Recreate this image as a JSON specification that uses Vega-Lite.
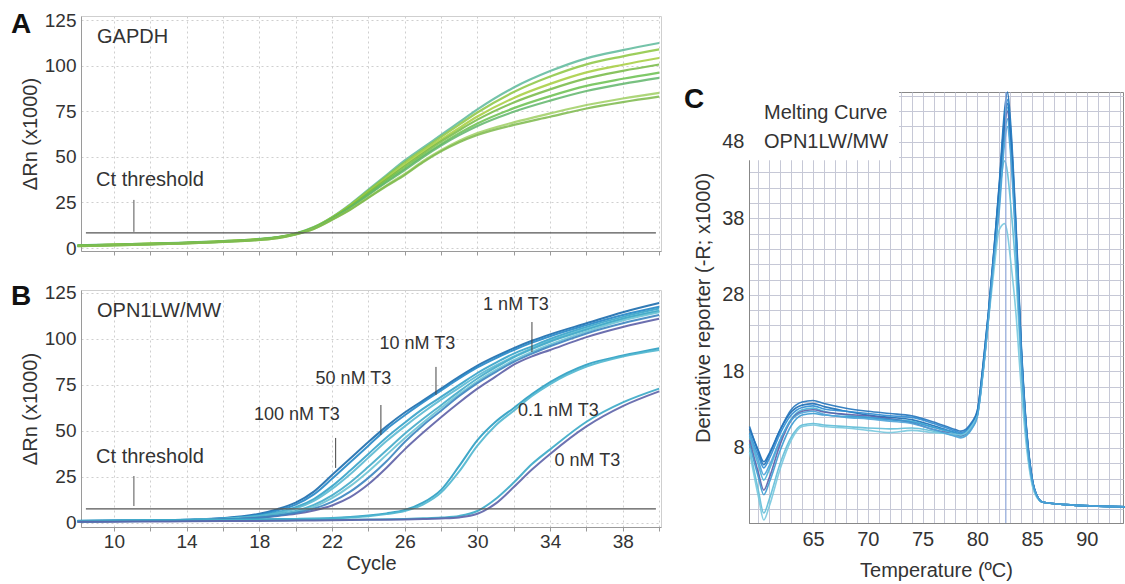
{
"$schema": "https://vega.github.io/schema/vega-lite/v6.json",
"padding": {"left": 10, "top": 10, "right": 0, "bottom": 0},
"background": "white",
"config": {"font": "Liberation Sans", "view": {"stroke": null}, "axis": {"labelFont": "Liberation Sans", "titleFont": "Liberation Sans", "labelColor": "#333", "titleColor": "#333", "titleFontWeight": "normal", "labelOverlap": false, "tickCount": 100, "format": "d"}},
"spacing": 18,
"resolve": {"scale": {"color": "independent"}},
"datasets": {
"A": [
{"s":"a1","c":8,"v":1.5},{"s":"a1","c":10,"v":2},{"s":"a1","c":12,"v":2.5},{"s":"a1","c":14,"v":3},{"s":"a1","c":16,"v":3.8},{"s":"a1","c":18,"v":5},{"s":"a1","c":19,"v":6},{"s":"a1","c":20,"v":8},{"s":"a1","c":21,"v":11.5},{"s":"a1","c":22,"v":17},{"s":"a1","c":23,"v":24},{"s":"a1","c":24,"v":32},{"s":"a1","c":25,"v":40},{"s":"a1","c":26,"v":48},{"s":"a1","c":27,"v":55},{"s":"a1","c":28,"v":62},{"s":"a1","c":29,"v":69},{"s":"a1","c":30,"v":76},{"s":"a1","c":32,"v":88},{"s":"a1","c":34,"v":97},{"s":"a1","c":36,"v":104},{"s":"a1","c":38,"v":108.5},{"s":"a1","c":40,"v":112.4},
{"s":"a2","c":8,"v":1.4},{"s":"a2","c":10,"v":1.9},{"s":"a2","c":12,"v":2.4},{"s":"a2","c":14,"v":2.9},{"s":"a2","c":16,"v":3.8},{"s":"a2","c":18,"v":4.9},{"s":"a2","c":19,"v":5.9},{"s":"a2","c":20,"v":7.9},{"s":"a2","c":21,"v":11.4},{"s":"a2","c":22,"v":16.8},{"s":"a2","c":23,"v":23.6},{"s":"a2","c":24,"v":31.5},{"s":"a2","c":25,"v":39.3},{"s":"a2","c":26,"v":47},{"s":"a2","c":27,"v":54},{"s":"a2","c":28,"v":60.9},{"s":"a2","c":29,"v":67.7},{"s":"a2","c":30,"v":74.3},{"s":"a2","c":32,"v":85.5},{"s":"a2","c":34,"v":94},{"s":"a2","c":36,"v":100.7},{"s":"a2","c":38,"v":105.1},{"s":"a2","c":40,"v":108.9},
{"s":"a3","c":8,"v":1.4},{"s":"a3","c":10,"v":1.9},{"s":"a3","c":12,"v":2.4},{"s":"a3","c":14,"v":2.9},{"s":"a3","c":16,"v":3.7},{"s":"a3","c":18,"v":4.9},{"s":"a3","c":19,"v":5.9},{"s":"a3","c":20,"v":7.9},{"s":"a3","c":21,"v":11.2},{"s":"a3","c":22,"v":16.6},{"s":"a3","c":23,"v":23.2},{"s":"a3","c":24,"v":30.7},{"s":"a3","c":25,"v":38.3},{"s":"a3","c":26,"v":45.8},{"s":"a3","c":27,"v":52.8},{"s":"a3","c":28,"v":59.5},{"s":"a3","c":29,"v":65.9},{"s":"a3","c":30,"v":72.1},{"s":"a3","c":32,"v":82.3},{"s":"a3","c":34,"v":90},{"s":"a3","c":36,"v":96.3},{"s":"a3","c":38,"v":100.5},{"s":"a3","c":40,"v":104.2},
{"s":"a4","c":8,"v":1.3},{"s":"a4","c":10,"v":1.8},{"s":"a4","c":12,"v":2.3},{"s":"a4","c":14,"v":2.8},{"s":"a4","c":16,"v":3.6},{"s":"a4","c":18,"v":4.8},{"s":"a4","c":19,"v":5.8},{"s":"a4","c":20,"v":7.8},{"s":"a4","c":21,"v":11.1},{"s":"a4","c":22,"v":16.4},{"s":"a4","c":23,"v":22.8},{"s":"a4","c":24,"v":30.2},{"s":"a4","c":25,"v":37.6},{"s":"a4","c":26,"v":44.8},{"s":"a4","c":27,"v":51.8},{"s":"a4","c":28,"v":58.4},{"s":"a4","c":29,"v":64.6},{"s":"a4","c":30,"v":70.4},{"s":"a4","c":32,"v":79.8},{"s":"a4","c":34,"v":87},{"s":"a4","c":36,"v":93},{"s":"a4","c":38,"v":97.1},{"s":"a4","c":40,"v":100.6},
{"s":"a5","c":8,"v":1.2},{"s":"a5","c":10,"v":1.7},{"s":"a5","c":12,"v":2.2},{"s":"a5","c":14,"v":2.8},{"s":"a5","c":16,"v":3.6},{"s":"a5","c":18,"v":4.7},{"s":"a5","c":19,"v":5.7},{"s":"a5","c":20,"v":7.7},{"s":"a5","c":21,"v":11},{"s":"a5","c":22,"v":16.2},{"s":"a5","c":23,"v":22.4},{"s":"a5","c":24,"v":29.5},{"s":"a5","c":25,"v":36.7},{"s":"a5","c":26,"v":43.6},{"s":"a5","c":27,"v":50.6},{"s":"a5","c":28,"v":57},{"s":"a5","c":29,"v":63},{"s":"a5","c":30,"v":68.3},{"s":"a5","c":32,"v":76.7},{"s":"a5","c":34,"v":83.3},{"s":"a5","c":36,"v":88.9},{"s":"a5","c":38,"v":92.8},{"s":"a5","c":40,"v":96.2},
{"s":"a6","c":8,"v":1.2},{"s":"a6","c":10,"v":1.7},{"s":"a6","c":12,"v":2.2},{"s":"a6","c":14,"v":2.7},{"s":"a6","c":16,"v":3.5},{"s":"a6","c":18,"v":4.7},{"s":"a6","c":19,"v":5.7},{"s":"a6","c":20,"v":7.7},{"s":"a6","c":21,"v":10.9},{"s":"a6","c":22,"v":16},{"s":"a6","c":23,"v":22},{"s":"a6","c":24,"v":29.1},{"s":"a6","c":25,"v":36.1},{"s":"a6","c":26,"v":42.8},{"s":"a6","c":27,"v":49.8},{"s":"a6","c":28,"v":56.2},{"s":"a6","c":29,"v":61.9},{"s":"a6","c":30,"v":66.9},{"s":"a6","c":32,"v":74.7},{"s":"a6","c":34,"v":80.8},{"s":"a6","c":36,"v":86.1},{"s":"a6","c":38,"v":90},{"s":"a6","c":40,"v":93.3},
{"s":"a7","c":8,"v":1},{"s":"a7","c":10,"v":1.5},{"s":"a7","c":12,"v":2},{"s":"a7","c":14,"v":2.6},{"s":"a7","c":16,"v":3.4},{"s":"a7","c":18,"v":4.5},{"s":"a7","c":19,"v":5.5},{"s":"a7","c":20,"v":7.5},{"s":"a7","c":21,"v":10.6},{"s":"a7","c":22,"v":15.6},{"s":"a7","c":23,"v":21.2},{"s":"a7","c":24,"v":27.8},{"s":"a7","c":25,"v":34.4},{"s":"a7","c":26,"v":40.6},{"s":"a7","c":27,"v":47.6},{"s":"a7","c":28,"v":53.6},{"s":"a7","c":29,"v":58.8},{"s":"a7","c":30,"v":63},{"s":"a7","c":32,"v":68.9},{"s":"a7","c":34,"v":73.8},{"s":"a7","c":36,"v":78.4},{"s":"a7","c":38,"v":82},{"s":"a7","c":40,"v":85.1},
{"s":"a8","c":8,"v":1},{"s":"a8","c":10,"v":1.5},{"s":"a8","c":12,"v":2},{"s":"a8","c":14,"v":2.6},{"s":"a8","c":16,"v":3.4},{"s":"a8","c":18,"v":4.5},{"s":"a8","c":19,"v":5.5},{"s":"a8","c":20,"v":7.5},{"s":"a8","c":21,"v":10.5},{"s":"a8","c":22,"v":15.5},{"s":"a8","c":23,"v":21},{"s":"a8","c":24,"v":27.5},{"s":"a8","c":25,"v":34},{"s":"a8","c":26,"v":40},{"s":"a8","c":27,"v":47},{"s":"a8","c":28,"v":53},{"s":"a8","c":29,"v":58},{"s":"a8","c":30,"v":62},{"s":"a8","c":32,"v":67.5},{"s":"a8","c":34,"v":72},{"s":"a8","c":36,"v":76.5},{"s":"a8","c":38,"v":80},{"s":"a8","c":40,"v":83}
],
"B": [
{"s":"b1","c":8,"v":1.0},{"s":"b1","c":10,"v":1.2},{"s":"b1","c":12,"v":1.4},{"s":"b1","c":14,"v":1.8},{"s":"b1","c":16,"v":2.6},{"s":"b1","c":18,"v":5},{"s":"b1","c":19,"v":7.5},{"s":"b1","c":20,"v":11},{"s":"b1","c":21,"v":17},{"s":"b1","c":22,"v":26},{"s":"b1","c":23,"v":35},{"s":"b1","c":24,"v":44},{"s":"b1","c":25,"v":52.5},{"s":"b1","c":26,"v":60},{"s":"b1","c":27,"v":66.5},{"s":"b1","c":28,"v":73},{"s":"b1","c":29,"v":79.5},{"s":"b1","c":30,"v":85.5},{"s":"b1","c":31,"v":90.5},{"s":"b1","c":32,"v":95},{"s":"b1","c":33,"v":99},{"s":"b1","c":34,"v":102.5},{"s":"b1","c":36,"v":108.5},{"s":"b1","c":38,"v":114.5},{"s":"b1","c":40,"v":119.5},
{"s":"b2","c":8,"v":1.1},{"s":"b2","c":10,"v":1.3},{"s":"b2","c":12,"v":1.5},{"s":"b2","c":14,"v":1.8},{"s":"b2","c":16,"v":2.5},{"s":"b2","c":18,"v":4.5},{"s":"b2","c":19,"v":6.8},{"s":"b2","c":20,"v":10},{"s":"b2","c":21,"v":15.5},{"s":"b2","c":22,"v":24},{"s":"b2","c":23,"v":33},{"s":"b2","c":24,"v":42},{"s":"b2","c":25,"v":51},{"s":"b2","c":26,"v":58.5},{"s":"b2","c":27,"v":65.5},{"s":"b2","c":28,"v":72},{"s":"b2","c":29,"v":78.5},{"s":"b2","c":30,"v":84.5},{"s":"b2","c":31,"v":89.5},{"s":"b2","c":32,"v":94},{"s":"b2","c":33,"v":98},{"s":"b2","c":34,"v":101.5},{"s":"b2","c":36,"v":107.5},{"s":"b2","c":38,"v":113},{"s":"b2","c":40,"v":117.5},
{"s":"b3","c":8,"v":0.9},{"s":"b3","c":10,"v":1.1},{"s":"b3","c":12,"v":1.3},{"s":"b3","c":14,"v":1.6},{"s":"b3","c":16,"v":2.3},{"s":"b3","c":18,"v":4},{"s":"b3","c":19,"v":5.8},{"s":"b3","c":20,"v":8.5},{"s":"b3","c":21,"v":13},{"s":"b3","c":22,"v":20},{"s":"b3","c":23,"v":28.5},{"s":"b3","c":24,"v":37.5},{"s":"b3","c":25,"v":46.5},{"s":"b3","c":26,"v":54.5},{"s":"b3","c":27,"v":62},{"s":"b3","c":28,"v":68.5},{"s":"b3","c":29,"v":75},{"s":"b3","c":30,"v":81.5},{"s":"b3","c":31,"v":87},{"s":"b3","c":32,"v":92},{"s":"b3","c":33,"v":96},{"s":"b3","c":34,"v":100},{"s":"b3","c":36,"v":106.5},{"s":"b3","c":38,"v":112},{"s":"b3","c":40,"v":116.5},
{"s":"b4","c":8,"v":1.0},{"s":"b4","c":10,"v":1.2},{"s":"b4","c":12,"v":1.4},{"s":"b4","c":14,"v":1.7},{"s":"b4","c":16,"v":2.3},{"s":"b4","c":18,"v":3.8},{"s":"b4","c":19,"v":5.3},{"s":"b4","c":20,"v":7.8},{"s":"b4","c":21,"v":12},{"s":"b4","c":22,"v":18.5},{"s":"b4","c":23,"v":26.5},{"s":"b4","c":24,"v":35.5},{"s":"b4","c":25,"v":44.5},{"s":"b4","c":26,"v":52.5},{"s":"b4","c":27,"v":60},{"s":"b4","c":28,"v":67},{"s":"b4","c":29,"v":73.5},{"s":"b4","c":30,"v":80},{"s":"b4","c":31,"v":85.5},{"s":"b4","c":32,"v":90.5},{"s":"b4","c":33,"v":95},{"s":"b4","c":34,"v":99},{"s":"b4","c":36,"v":105.5},{"s":"b4","c":38,"v":111},{"s":"b4","c":40,"v":115.5},
{"s":"b5","c":8,"v":0.8},{"s":"b5","c":10,"v":1.0},{"s":"b5","c":12,"v":1.2},{"s":"b5","c":14,"v":1.5},{"s":"b5","c":16,"v":2.1},{"s":"b5","c":18,"v":3.3},{"s":"b5","c":19,"v":4.6},{"s":"b5","c":20,"v":6.5},{"s":"b5","c":21,"v":9.8},{"s":"b5","c":22,"v":15},{"s":"b5","c":23,"v":22},{"s":"b5","c":24,"v":30.5},{"s":"b5","c":25,"v":39.5},{"s":"b5","c":26,"v":48.5},{"s":"b5","c":27,"v":56.5},{"s":"b5","c":28,"v":64},{"s":"b5","c":29,"v":71.5},{"s":"b5","c":30,"v":78.5},{"s":"b5","c":31,"v":84.5},{"s":"b5","c":32,"v":90},{"s":"b5","c":33,"v":94.5},{"s":"b5","c":34,"v":98.5},{"s":"b5","c":36,"v":105},{"s":"b5","c":38,"v":111},{"s":"b5","c":40,"v":115},
{"s":"b6","c":8,"v":0.9},{"s":"b6","c":10,"v":1.1},{"s":"b6","c":12,"v":1.3},{"s":"b6","c":14,"v":1.6},{"s":"b6","c":16,"v":2.1},{"s":"b6","c":18,"v":3.0},{"s":"b6","c":19,"v":4.2},{"s":"b6","c":20,"v":6},{"s":"b6","c":21,"v":8.8},{"s":"b6","c":22,"v":13.5},{"s":"b6","c":23,"v":20},{"s":"b6","c":24,"v":28},{"s":"b6","c":25,"v":37},{"s":"b6","c":26,"v":46},{"s":"b6","c":27,"v":54.5},{"s":"b6","c":28,"v":62.5},{"s":"b6","c":29,"v":70},{"s":"b6","c":30,"v":77},{"s":"b6","c":31,"v":83},{"s":"b6","c":32,"v":88.5},{"s":"b6","c":33,"v":93},{"s":"b6","c":34,"v":97},{"s":"b6","c":36,"v":104},{"s":"b6","c":38,"v":110},{"s":"b6","c":40,"v":114.5},
{"s":"b7","c":8,"v":0.7},{"s":"b7","c":10,"v":0.9},{"s":"b7","c":12,"v":1.1},{"s":"b7","c":14,"v":1.4},{"s":"b7","c":16,"v":1.9},{"s":"b7","c":18,"v":2.8},{"s":"b7","c":19,"v":3.8},{"s":"b7","c":20,"v":5},{"s":"b7","c":21,"v":6.8},{"s":"b7","c":22,"v":9.5},{"s":"b7","c":23,"v":14},{"s":"b7","c":24,"v":21},{"s":"b7","c":25,"v":30},{"s":"b7","c":26,"v":40},{"s":"b7","c":27,"v":49},{"s":"b7","c":28,"v":57.5},{"s":"b7","c":29,"v":65.5},{"s":"b7","c":30,"v":73},{"s":"b7","c":31,"v":79.5},{"s":"b7","c":32,"v":86},{"s":"b7","c":33,"v":90.5},{"s":"b7","c":34,"v":94},{"s":"b7","c":36,"v":101},{"s":"b7","c":38,"v":106.5},{"s":"b7","c":40,"v":111},
{"s":"b8","c":8,"v":0.8},{"s":"b8","c":10,"v":1.0},{"s":"b8","c":12,"v":1.2},{"s":"b8","c":14,"v":1.5},{"s":"b8","c":16,"v":2.0},{"s":"b8","c":18,"v":2.9},{"s":"b8","c":19,"v":4},{"s":"b8","c":20,"v":5.5},{"s":"b8","c":21,"v":7.8},{"s":"b8","c":22,"v":11.5},{"s":"b8","c":23,"v":17},{"s":"b8","c":24,"v":24.5},{"s":"b8","c":25,"v":33.5},{"s":"b8","c":26,"v":44},{"s":"b8","c":27,"v":53},{"s":"b8","c":28,"v":61},{"s":"b8","c":29,"v":69},{"s":"b8","c":30,"v":76},{"s":"b8","c":31,"v":82},{"s":"b8","c":32,"v":87.5},{"s":"b8","c":33,"v":92},{"s":"b8","c":34,"v":96},{"s":"b8","c":36,"v":103},{"s":"b8","c":38,"v":108.5},{"s":"b8","c":40,"v":113},
{"s":"b9","c":8,"v":1.2},{"s":"b9","c":10,"v":1.3},{"s":"b9","c":12,"v":1.5},{"s":"b9","c":14,"v":1.6},{"s":"b9","c":16,"v":1.8},{"s":"b9","c":18,"v":2.0},{"s":"b9","c":19,"v":2.1},{"s":"b9","c":20,"v":2.2},{"s":"b9","c":21,"v":2.4},{"s":"b9","c":22,"v":2.7},{"s":"b9","c":23,"v":3.2},{"s":"b9","c":24,"v":4},{"s":"b9","c":25,"v":5.2},{"s":"b9","c":26,"v":7},{"s":"b9","c":27,"v":11},{"s":"b9","c":28,"v":18},{"s":"b9","c":29,"v":31},{"s":"b9","c":30,"v":45},{"s":"b9","c":31,"v":55},{"s":"b9","c":32,"v":62.5},{"s":"b9","c":33,"v":70},{"s":"b9","c":34,"v":76.5},{"s":"b9","c":36,"v":86},{"s":"b9","c":38,"v":91},{"s":"b9","c":40,"v":95},
{"s":"b10","c":8,"v":1.0},{"s":"b10","c":10,"v":1.1},{"s":"b10","c":12,"v":1.3},{"s":"b10","c":14,"v":1.4},{"s":"b10","c":16,"v":1.6},{"s":"b10","c":18,"v":1.8},{"s":"b10","c":19,"v":1.9},{"s":"b10","c":20,"v":2.0},{"s":"b10","c":21,"v":2.2},{"s":"b10","c":22,"v":2.5},{"s":"b10","c":23,"v":3.0},{"s":"b10","c":24,"v":3.7},{"s":"b10","c":25,"v":4.8},{"s":"b10","c":26,"v":6.5},{"s":"b10","c":27,"v":10},{"s":"b10","c":28,"v":16.5},{"s":"b10","c":29,"v":28},{"s":"b10","c":30,"v":42},{"s":"b10","c":31,"v":53},{"s":"b10","c":32,"v":61},{"s":"b10","c":33,"v":69},{"s":"b10","c":34,"v":75.5},{"s":"b10","c":36,"v":85},{"s":"b10","c":38,"v":90.5},{"s":"b10","c":40,"v":94},
{"s":"b11","c":8,"v":0.8},{"s":"b11","c":10,"v":0.9},{"s":"b11","c":12,"v":1.0},{"s":"b11","c":14,"v":1.1},{"s":"b11","c":16,"v":1.2},{"s":"b11","c":18,"v":1.3},{"s":"b11","c":19,"v":1.4},{"s":"b11","c":20,"v":1.5},{"s":"b11","c":21,"v":1.6},{"s":"b11","c":22,"v":1.7},{"s":"b11","c":23,"v":1.8},{"s":"b11","c":24,"v":1.9},{"s":"b11","c":25,"v":2.0},{"s":"b11","c":26,"v":2.2},{"s":"b11","c":27,"v":2.5},{"s":"b11","c":28,"v":2.9},{"s":"b11","c":29,"v":3.8},{"s":"b11","c":30,"v":6.5},{"s":"b11","c":31,"v":13},{"s":"b11","c":32,"v":22},{"s":"b11","c":33,"v":32},{"s":"b11","c":34,"v":40},{"s":"b11","c":36,"v":55},{"s":"b11","c":38,"v":65.5},{"s":"b11","c":40,"v":73},
{"s":"b12","c":8,"v":0.6},{"s":"b12","c":10,"v":0.7},{"s":"b12","c":12,"v":0.8},{"s":"b12","c":14,"v":0.9},{"s":"b12","c":16,"v":1.0},{"s":"b12","c":18,"v":1.1},{"s":"b12","c":19,"v":1.2},{"s":"b12","c":20,"v":1.3},{"s":"b12","c":21,"v":1.4},{"s":"b12","c":22,"v":1.5},{"s":"b12","c":23,"v":1.6},{"s":"b12","c":24,"v":1.7},{"s":"b12","c":25,"v":1.8},{"s":"b12","c":26,"v":1.9},{"s":"b12","c":27,"v":2.1},{"s":"b12","c":28,"v":2.4},{"s":"b12","c":29,"v":3.0},{"s":"b12","c":30,"v":5},{"s":"b12","c":31,"v":10.5},{"s":"b12","c":32,"v":19.5},{"s":"b12","c":33,"v":29},{"s":"b12","c":34,"v":37.5},{"s":"b12","c":36,"v":52.5},{"s":"b12","c":38,"v":63.5},{"s":"b12","c":40,"v":71.5}
],
"C": [
{"s":"c1","t":59.2,"v":10.5},{"s":"c1","t":60,"v":7.7},{"s":"c1","t":60.5,"v":6.2},{"s":"c1","t":61,"v":7.3},{"s":"c1","t":62,"v":10.4},{"s":"c1","t":63,"v":12.7},{"s":"c1","t":64,"v":13.6},{"s":"c1","t":65,"v":13.8},{"s":"c1","t":66,"v":13.4},{"s":"c1","t":68,"v":12.8},{"s":"c1","t":70,"v":12.3},{"s":"c1","t":72,"v":12.0},{"s":"c1","t":74,"v":11.7},{"s":"c1","t":76,"v":10.9},{"s":"c1","t":78,"v":10.0},{"s":"c1","t":78.5,"v":9.8},{"s":"c1","t":79,"v":10.1},{"s":"c1","t":79.5,"v":11.0},{"s":"c1","t":80,"v":12.8},{"s":"c1","t":80.5,"v":18.5},{"s":"c1","t":81,"v":25.5},{"s":"c1","t":81.5,"v":33.5},{"s":"c1","t":82,"v":42.5},{"s":"c1","t":82.5,"v":52.3},{"s":"c1","t":82.75,"v":54.5},{"s":"c1","t":83,"v":51.2},{"s":"c1","t":83.5,"v":38.2},{"s":"c1","t":84,"v":21.8},{"s":"c1","t":84.5,"v":10.4},{"s":"c1","t":85,"v":4.1},{"s":"c1","t":85.5,"v":1.6},{"s":"c1","t":86,"v":0.9},{"s":"c1","t":88,"v":0.6},{"s":"c1","t":93.5,"v":0.3},
{"s":"c2","t":59.2,"v":10},{"s":"c2","t":60,"v":7.0},{"s":"c2","t":60.5,"v":5.4},{"s":"c2","t":61,"v":6.6},{"s":"c2","t":62,"v":9.9},{"s":"c2","t":63,"v":12.3},{"s":"c2","t":64,"v":13.3},{"s":"c2","t":65,"v":13.5},{"s":"c2","t":66,"v":13.1},{"s":"c2","t":68,"v":12.8},{"s":"c2","t":70,"v":12.5},{"s":"c2","t":72,"v":12.2},{"s":"c2","t":74,"v":12.0},{"s":"c2","t":76,"v":11.2},{"s":"c2","t":78,"v":10.2},{"s":"c2","t":78.5,"v":10.0},{"s":"c2","t":79,"v":10.3},{"s":"c2","t":79.5,"v":11.2},{"s":"c2","t":80,"v":12.6},{"s":"c2","t":80.5,"v":18.2},{"s":"c2","t":81,"v":25.2},{"s":"c2","t":81.5,"v":33.2},{"s":"c2","t":82,"v":41.8},{"s":"c2","t":82.5,"v":51.4},{"s":"c2","t":82.75,"v":53.5},{"s":"c2","t":83,"v":50.3},{"s":"c2","t":83.5,"v":37.5},{"s":"c2","t":84,"v":21.4},{"s":"c2","t":84.5,"v":10.2},{"s":"c2","t":85,"v":4.0},{"s":"c2","t":85.5,"v":1.6},{"s":"c2","t":86,"v":0.9},{"s":"c2","t":88,"v":0.6},{"s":"c2","t":93.5,"v":0.3},
{"s":"c3","t":59.2,"v":9.5},{"s":"c3","t":60,"v":5.8},{"s":"c3","t":60.5,"v":3.8},{"s":"c3","t":61,"v":5.2},{"s":"c3","t":62,"v":9.0},{"s":"c3","t":63,"v":11.8},{"s":"c3","t":64,"v":13.0},{"s":"c3","t":65,"v":13.2},{"s":"c3","t":66,"v":12.8},{"s":"c3","t":68,"v":12.3},{"s":"c3","t":70,"v":12.0},{"s":"c3","t":72,"v":11.7},{"s":"c3","t":74,"v":11.5},{"s":"c3","t":76,"v":10.7},{"s":"c3","t":78,"v":9.8},{"s":"c3","t":78.5,"v":9.6},{"s":"c3","t":79,"v":9.9},{"s":"c3","t":79.5,"v":10.8},{"s":"c3","t":80,"v":12.4},{"s":"c3","t":80.5,"v":18},{"s":"c3","t":81,"v":25},{"s":"c3","t":81.5,"v":33},{"s":"c3","t":82,"v":41},{"s":"c3","t":82.5,"v":50.4},{"s":"c3","t":82.75,"v":52.5},{"s":"c3","t":83,"v":49.4},{"s":"c3","t":83.5,"v":36.8},{"s":"c3","t":84,"v":21},{"s":"c3","t":84.5,"v":10},{"s":"c3","t":85,"v":3.9},{"s":"c3","t":85.5,"v":1.6},{"s":"c3","t":86,"v":0.9},{"s":"c3","t":88,"v":0.6},{"s":"c3","t":93.5,"v":0.3},
{"s":"c4","t":59.2,"v":9},{"s":"c4","t":60,"v":4.8},{"s":"c4","t":60.5,"v":2.5},{"s":"c4","t":61,"v":4.1},{"s":"c4","t":62,"v":8.5},{"s":"c4","t":63,"v":11.6},{"s":"c4","t":64,"v":12.8},{"s":"c4","t":65,"v":13},{"s":"c4","t":66,"v":12.7},{"s":"c4","t":68,"v":12.4},{"s":"c4","t":70,"v":12.2},{"s":"c4","t":72,"v":11.8},{"s":"c4","t":74,"v":11.3},{"s":"c4","t":76,"v":10.4},{"s":"c4","t":78,"v":9.7},{"s":"c4","t":78.5,"v":9.5},{"s":"c4","t":79,"v":9.8},{"s":"c4","t":79.5,"v":10.7},{"s":"c4","t":80,"v":12.3},{"s":"c4","t":80.5,"v":17.8},{"s":"c4","t":81,"v":24.8},{"s":"c4","t":81.5,"v":32.8},{"s":"c4","t":82,"v":40.6},{"s":"c4","t":82.5,"v":50},{"s":"c4","t":82.75,"v":52},{"s":"c4","t":83,"v":48.9},{"s":"c4","t":83.5,"v":36.4},{"s":"c4","t":84,"v":20.8},{"s":"c4","t":84.5,"v":9.9},{"s":"c4","t":85,"v":3.9},{"s":"c4","t":85.5,"v":1.6},{"s":"c4","t":86,"v":0.9},{"s":"c4","t":88,"v":0.6},{"s":"c4","t":93.5,"v":0.3},
{"s":"c5","t":59.2,"v":8.5},{"s":"c5","t":60,"v":4.2},{"s":"c5","t":60.5,"v":1.9},{"s":"c5","t":61,"v":3.5},{"s":"c5","t":62,"v":7.7},{"s":"c5","t":63,"v":10.9},{"s":"c5","t":64,"v":12.3},{"s":"c5","t":65,"v":12.5},{"s":"c5","t":66,"v":12.3},{"s":"c5","t":68,"v":12.1},{"s":"c5","t":70,"v":12.0},{"s":"c5","t":72,"v":11.7},{"s":"c5","t":74,"v":11.4},{"s":"c5","t":76,"v":10.7},{"s":"c5","t":78,"v":10.0},{"s":"c5","t":78.5,"v":9.8},{"s":"c5","t":79,"v":10.1},{"s":"c5","t":79.5,"v":11.0},{"s":"c5","t":80,"v":12.5},{"s":"c5","t":80.5,"v":18},{"s":"c5","t":81,"v":25},{"s":"c5","t":81.5,"v":32.6},{"s":"c5","t":82,"v":39.8},{"s":"c5","t":82.5,"v":49},{"s":"c5","t":82.75,"v":51},{"s":"c5","t":83,"v":47.9},{"s":"c5","t":83.5,"v":35.7},{"s":"c5","t":84,"v":20.4},{"s":"c5","t":84.5,"v":9.7},{"s":"c5","t":85,"v":3.8},{"s":"c5","t":85.5,"v":1.6},{"s":"c5","t":86,"v":0.9},{"s":"c5","t":88,"v":0.6},{"s":"c5","t":93.5,"v":0.3},
{"s":"c6","t":59.2,"v":8},{"s":"c6","t":60,"v":2.5},{"s":"c6","t":60.5,"v":-0.5},{"s":"c6","t":61,"v":1.3},{"s":"c6","t":62,"v":6.0},{"s":"c6","t":63,"v":9.4},{"s":"c6","t":64,"v":11.0},{"s":"c6","t":65,"v":11.2},{"s":"c6","t":66,"v":11.0},{"s":"c6","t":68,"v":10.8},{"s":"c6","t":70,"v":10.6},{"s":"c6","t":72,"v":10.5},{"s":"c6","t":74,"v":10.6},{"s":"c6","t":76,"v":10.2},{"s":"c6","t":78,"v":9.6},{"s":"c6","t":78.5,"v":9.4},{"s":"c6","t":79,"v":9.7},{"s":"c6","t":79.5,"v":10.6},{"s":"c6","t":80,"v":12.2},{"s":"c6","t":80.5,"v":17.6},{"s":"c6","t":81,"v":24.6},{"s":"c6","t":81.5,"v":32.5},{"s":"c6","t":82,"v":41},{"s":"c6","t":82.5,"v":45.5},{"s":"c6","t":82.75,"v":44},{"s":"c6","t":83,"v":40.5},{"s":"c6","t":83.5,"v":31.5},{"s":"c6","t":84,"v":18.5},{"s":"c6","t":84.5,"v":8.8},{"s":"c6","t":85,"v":3.5},{"s":"c6","t":85.5,"v":1.5},{"s":"c6","t":86,"v":0.9},{"s":"c6","t":88,"v":0.6},{"s":"c6","t":93.5,"v":0.3},
{"s":"c7","t":59.2,"v":7.5},{"s":"c7","t":60,"v":1.7},{"s":"c7","t":60.5,"v":-1.4},{"s":"c7","t":61,"v":0.4},{"s":"c7","t":62,"v":5.3},{"s":"c7","t":63,"v":9.0},{"s":"c7","t":64,"v":10.8},{"s":"c7","t":65,"v":11.0},{"s":"c7","t":66,"v":10.8},{"s":"c7","t":68,"v":10.6},{"s":"c7","t":70,"v":10.3},{"s":"c7","t":72,"v":10.0},{"s":"c7","t":74,"v":10.3},{"s":"c7","t":76,"v":10.0},{"s":"c7","t":78,"v":9.8},{"s":"c7","t":78.5,"v":9.7},{"s":"c7","t":79,"v":10.0},{"s":"c7","t":79.5,"v":10.9},{"s":"c7","t":80,"v":12.3},{"s":"c7","t":80.5,"v":17.5},{"s":"c7","t":81,"v":24.5},{"s":"c7","t":81.5,"v":31},{"s":"c7","t":82,"v":36.5},{"s":"c7","t":82.5,"v":37.3},{"s":"c7","t":82.75,"v":36},{"s":"c7","t":83,"v":33},{"s":"c7","t":83.5,"v":26},{"s":"c7","t":84,"v":16},{"s":"c7","t":84.5,"v":8},{"s":"c7","t":85,"v":3.2},{"s":"c7","t":85.5,"v":1.4},{"s":"c7","t":86,"v":0.9},{"s":"c7","t":88,"v":0.6},{"s":"c7","t":93.5,"v":0.3},
{"s":"c8","t":59.2,"v":10.8},{"s":"c8","t":60,"v":7.5},{"s":"c8","t":60.5,"v":5.8},{"s":"c8","t":61,"v":7.1},{"s":"c8","t":62,"v":10.4},{"s":"c8","t":63,"v":13},{"s":"c8","t":64,"v":14},{"s":"c8","t":65,"v":14.2},{"s":"c8","t":66,"v":13.8},{"s":"c8","t":68,"v":13.2},{"s":"c8","t":70,"v":12.8},{"s":"c8","t":72,"v":12.5},{"s":"c8","t":74,"v":12.2},{"s":"c8","t":76,"v":11.4},{"s":"c8","t":78,"v":10.4},{"s":"c8","t":78.5,"v":10.2},{"s":"c8","t":79,"v":10.5},{"s":"c8","t":79.5,"v":11.4},{"s":"c8","t":80,"v":12.9},{"s":"c8","t":80.5,"v":18.6},{"s":"c8","t":81,"v":25.6},{"s":"c8","t":81.5,"v":33.6},{"s":"c8","t":82,"v":42.2},{"s":"c8","t":82.5,"v":51},{"s":"c8","t":82.75,"v":53},{"s":"c8","t":83,"v":49.8},{"s":"c8","t":83.5,"v":37.1},{"s":"c8","t":84,"v":21.2},{"s":"c8","t":84.5,"v":10.1},{"s":"c8","t":85,"v":4},{"s":"c8","t":85.5,"v":1.6},{"s":"c8","t":86,"v":0.9},{"s":"c8","t":88,"v":0.6},{"s":"c8","t":93.5,"v":0.3},
{"s":"c9","t":59.2,"v":9.8},{"s":"c9","t":60,"v":6.4},{"s":"c9","t":60.5,"v":4.5},{"s":"c9","t":61,"v":5.7},{"s":"c9","t":62,"v":9.1},{"s":"c9","t":63,"v":11.6},{"s":"c9","t":64,"v":12.6},{"s":"c9","t":65,"v":12.8},{"s":"c9","t":66,"v":12.4},{"s":"c9","t":68,"v":12.0},{"s":"c9","t":70,"v":11.8},{"s":"c9","t":72,"v":11.5},{"s":"c9","t":74,"v":11.2},{"s":"c9","t":76,"v":10.4},{"s":"c9","t":78,"v":9.5},{"s":"c9","t":78.5,"v":9.3},{"s":"c9","t":79,"v":9.6},{"s":"c9","t":79.5,"v":10.5},{"s":"c9","t":80,"v":12.1},{"s":"c9","t":80.5,"v":17.7},{"s":"c9","t":81,"v":24.7},{"s":"c9","t":81.5,"v":32.5},{"s":"c9","t":82,"v":39},{"s":"c9","t":82.5,"v":48},{"s":"c9","t":82.75,"v":50},{"s":"c9","t":83,"v":47},{"s":"c9","t":83.5,"v":35},{"s":"c9","t":84,"v":20},{"s":"c9","t":84.5,"v":9.5},{"s":"c9","t":85,"v":3.8},{"s":"c9","t":85.5,"v":1.6},{"s":"c9","t":86,"v":0.9},{"s":"c9","t":88,"v":0.6},{"s":"c9","t":93.5,"v":0.3}
]
},
"hconcat": [
{
"bounds": "flush",
"spacing": 39,
"resolve": {"scale": {"color": "independent"}},
"vconcat": [
{
"width": 580, "height": 235,
"view": {"stroke": "#cfcfcf"},
"layer": [
{"data": {"name": "A"}, "mark": {"type": "line", "interpolate": "monotone", "strokeWidth": 2.2, "opacity": 0.85},
 "encoding": {
  "x": {"field": "c", "type": "quantitative", "scale": {"domain": [8.19, 40.1], "nice": false, "zero": false},
   "axis": {"values": [10,12,14,16,18,20,22,24,26,28,30,32,34,36,38,40], "tickCount": 100, "format": "d", "labels": false, "title": null, "grid": true, "gridDash": [2,3], "gridColor": "#cfcfcf", "domainColor": "#9a9a9a", "tickColor": "#9a9a9a", "tickSize": 4}},
  "y": {"field": "v", "type": "quantitative", "scale": {"domain": [-1.6, 127.2], "nice": false, "zero": false},
   "axis": {"values": [0,25,50,75,100,125], "tickCount": 100, "format": "d", "title": "ΔRn (x1000)", "titleFontSize": 20, "labelFontSize": 19, "ticks": false, "labelPadding": 5, "titlePadding": 4, "grid": true, "gridDash": [2,3], "gridColor": "#cfcfcf", "domainColor": "#9a9a9a"}},
  "color": {"field": "s", "type": "nominal", "legend": null, "scale": {"domain": ["a1","a2","a3","a4","a5","a6","a7","a8"], "range": ["#5cb89a","#8cc63f","#a5cc3c","#74b843","#68bf4e","#5fb56a","#9fcf63","#7bb84a"]}}
 }},
{"data": {"values": [{}]}, "mark": {"type": "rule", "color": "#555", "strokeWidth": 1.3},
 "encoding": {"x": {"datum": 8.46, "type": "quantitative", "scale": {"domain": [8.19, 40.1], "nice": false, "zero": false}}, "x2": {"datum": 39.82}, "y": {"datum": 8.3, "type": "quantitative", "scale": {"domain": [-1.6, 127.2], "nice": false, "zero": false}}}},
{"data": {"values": [{}]}, "mark": {"type": "rule", "color": "#555", "strokeWidth": 1},
 "encoding": {"x": {"datum": 11.1, "type": "quantitative", "scale": {"domain": [8.19, 40.1], "nice": false, "zero": false}}, "y": {"datum": 26.4, "type": "quantitative", "scale": {"domain": [-1.6, 127.2], "nice": false, "zero": false}}, "y2": {"datum": 8.9}}},
{"data": {"values": [{}]}, "mark": {"type": "text", "align": "left", "baseline": "middle", "fontSize": 20, "color": "#333", "text": "Ct threshold"},
 "encoding": {"x": {"datum": 9.02, "type": "quantitative", "scale": {"domain": [8.19, 40.1], "nice": false, "zero": false}}, "y": {"datum": 37.3, "type": "quantitative", "scale": {"domain": [-1.6, 127.2], "nice": false, "zero": false}}}},
{"data": {"values": [{}]}, "mark": {"type": "text", "align": "left", "baseline": "middle", "fontSize": 20, "color": "#333", "text": "GAPDH"},
 "encoding": {"x": {"datum": 9.07, "type": "quantitative", "scale": {"domain": [8.19, 40.1], "nice": false, "zero": false}}, "y": {"datum": 115.7, "type": "quantitative", "scale": {"domain": [-1.6, 127.2], "nice": false, "zero": false}}}},
{"data": {"values": [{}]}, "mark": {"type": "text", "align": "center", "baseline": "middle", "fontSize": 28, "fontWeight": "bold", "color": "#111", "text": "A"},
 "encoding": {"x": {"datum": 4.89, "type": "quantitative", "scale": {"domain": [8.19, 40.1], "nice": false, "zero": false}}, "y": {"datum": 122.3, "type": "quantitative", "scale": {"domain": [-1.6, 127.2], "nice": false, "zero": false}}}}
]
},
{
"width": 580, "height": 237,
"view": {"stroke": "#cfcfcf"},
"layer": [
{"data": {"name": "B"}, "mark": {"type": "line", "interpolate": "monotone", "strokeWidth": 2, "opacity": 0.9},
 "encoding": {
  "x": {"field": "c", "type": "quantitative", "scale": {"domain": [8.19, 40.1], "nice": false, "zero": false},
   "axis": {"values": [10,12,14,16,18,20,22,24,26,28,30,32,34,36,38,40], "tickCount": 100, "format": "d", "labelExpr": "datum.value % 4 == 2 ? datum.label : ''", "labelFontSize": 19, "labelPadding": 1, "title": "Cycle", "titleFontSize": 20, "titlePadding": 2, "grid": true, "gridDash": [2,3], "gridColor": "#cfcfcf", "domainColor": "#9a9a9a", "tickColor": "#9a9a9a", "tickSize": 4}},
  "y": {"field": "v", "type": "quantitative", "scale": {"domain": [-2.2, 126.6], "nice": false, "zero": false},
   "axis": {"values": [0,25,50,75,100,125], "tickCount": 100, "format": "d", "title": "ΔRn (x1000)", "titleFontSize": 20, "labelFontSize": 19, "ticks": false, "labelPadding": 5, "titlePadding": 4, "grid": true, "gridDash": [2,3], "gridColor": "#cfcfcf", "domainColor": "#9a9a9a"}},
  "color": {"field": "s", "type": "nominal", "legend": null, "scale": {"domain": ["b1","b2","b3","b4","b5","b6","b7","b8","b9","b10","b11","b12"], "range": ["#1b6cad","#2486c6","#35a2c9","#5ab9d1","#42aac9","#6cc3d4","#5c5fa6","#3b84c0","#2a9dc2","#4fb6cf","#38a8c7","#5d63a8"]}}
 }},
{"data": {"values": [{}]}, "mark": {"type": "rule", "color": "#555", "strokeWidth": 1.3},
 "encoding": {"x": {"datum": 8.46, "type": "quantitative", "scale": {"domain": [8.19, 40.1], "nice": false, "zero": false}}, "x2": {"datum": 39.82}, "y": {"datum": 7.6, "type": "quantitative", "scale": {"domain": [-2.2, 126.6], "nice": false, "zero": false}}}},
{"data": {"values": [{}]}, "mark": {"type": "rule", "color": "#555", "strokeWidth": 1},
 "encoding": {"x": {"datum": 11.1, "type": "quantitative", "scale": {"domain": [8.19, 40.1], "nice": false, "zero": false}}, "y": {"datum": 25.5, "type": "quantitative", "scale": {"domain": [-2.2, 126.6], "nice": false, "zero": false}}, "y2": {"datum": 9.2}}},
{"data": {"values": [{}]}, "mark": {"type": "rule", "color": "#444", "strokeWidth": 1},
 "encoding": {"x": {"datum": 22.2, "type": "quantitative", "scale": {"domain": [8.19, 40.1], "nice": false, "zero": false}}, "y": {"datum": 46.2, "type": "quantitative", "scale": {"domain": [-2.2, 126.6], "nice": false, "zero": false}}, "y2": {"datum": 29.9}}},
{"data": {"values": [{}]}, "mark": {"type": "rule", "color": "#444", "strokeWidth": 1},
 "encoding": {"x": {"datum": 24.69, "type": "quantitative", "scale": {"domain": [8.19, 40.1], "nice": false, "zero": false}}, "y": {"datum": 64.1, "type": "quantitative", "scale": {"domain": [-2.2, 126.6], "nice": false, "zero": false}}, "y2": {"datum": 47.8}}},
{"data": {"values": [{}]}, "mark": {"type": "rule", "color": "#444", "strokeWidth": 1},
 "encoding": {"x": {"datum": 27.72, "type": "quantitative", "scale": {"domain": [8.19, 40.1], "nice": false, "zero": false}}, "y": {"datum": 84.8, "type": "quantitative", "scale": {"domain": [-2.2, 126.6], "nice": false, "zero": false}}, "y2": {"datum": 69.6}}},
{"data": {"values": [{}]}, "mark": {"type": "rule", "color": "#444", "strokeWidth": 1},
 "encoding": {"x": {"datum": 33.0, "type": "quantitative", "scale": {"domain": [8.19, 40.1], "nice": false, "zero": false}}, "y": {"datum": 109.2, "type": "quantitative", "scale": {"domain": [-2.2, 126.6], "nice": false, "zero": false}}, "y2": {"datum": 92.9}}},
{"data": {"values": [{}]}, "mark": {"type": "text", "align": "left", "baseline": "middle", "fontSize": 20, "color": "#333", "text": "Ct threshold"},
 "encoding": {"x": {"datum": 9.02, "type": "quantitative", "scale": {"domain": [8.19, 40.1], "nice": false, "zero": false}}, "y": {"datum": 35.8, "type": "quantitative", "scale": {"domain": [-2.2, 126.6], "nice": false, "zero": false}}}},
{"data": {"values": [{}]}, "mark": {"type": "text", "align": "left", "baseline": "middle", "fontSize": 20, "color": "#333", "text": "OPN1LW/MW"},
 "encoding": {"x": {"datum": 9.07, "type": "quantitative", "scale": {"domain": [8.19, 40.1], "nice": false, "zero": false}}, "y": {"datum": 115.2, "type": "quantitative", "scale": {"domain": [-2.2, 126.6], "nice": false, "zero": false}}}},
{"data": {"values": [{}]}, "mark": {"type": "text", "align": "center", "baseline": "middle", "fontSize": 18, "color": "#333", "text": "100 nM T3"},
 "encoding": {"x": {"datum": 20.07, "type": "quantitative", "scale": {"domain": [8.19, 40.1], "nice": false, "zero": false}}, "y": {"datum": 58.7, "type": "quantitative", "scale": {"domain": [-2.2, 126.6], "nice": false, "zero": false}}}},
{"data": {"values": [{}]}, "mark": {"type": "text", "align": "center", "baseline": "middle", "fontSize": 18, "color": "#333", "text": "50 nM T3"},
 "encoding": {"x": {"datum": 23.18, "type": "quantitative", "scale": {"domain": [8.19, 40.1], "nice": false, "zero": false}}, "y": {"datum": 78.2, "type": "quantitative", "scale": {"domain": [-2.2, 126.6], "nice": false, "zero": false}}}},
{"data": {"values": [{}]}, "mark": {"type": "text", "align": "center", "baseline": "middle", "fontSize": 18, "color": "#333", "text": "10 nM T3"},
 "encoding": {"x": {"datum": 26.7, "type": "quantitative", "scale": {"domain": [8.19, 40.1], "nice": false, "zero": false}}, "y": {"datum": 97.3, "type": "quantitative", "scale": {"domain": [-2.2, 126.6], "nice": false, "zero": false}}}},
{"data": {"values": [{}]}, "mark": {"type": "text", "align": "center", "baseline": "middle", "fontSize": 18, "color": "#333", "text": "1 nM T3"},
 "encoding": {"x": {"datum": 32.12, "type": "quantitative", "scale": {"domain": [8.19, 40.1], "nice": false, "zero": false}}, "y": {"datum": 118.4, "type": "quantitative", "scale": {"domain": [-2.2, 126.6], "nice": false, "zero": false}}}},
{"data": {"values": [{}]}, "mark": {"type": "text", "align": "center", "baseline": "middle", "fontSize": 18, "color": "#333", "text": "0.1 nM T3"},
 "encoding": {"x": {"datum": 34.45, "type": "quantitative", "scale": {"domain": [8.19, 40.1], "nice": false, "zero": false}}, "y": {"datum": 60.6, "type": "quantitative", "scale": {"domain": [-2.2, 126.6], "nice": false, "zero": false}}}},
{"data": {"values": [{}]}, "mark": {"type": "text", "align": "center", "baseline": "middle", "fontSize": 18, "color": "#333", "text": "0 nM T3"},
 "encoding": {"x": {"datum": 36.05, "type": "quantitative", "scale": {"domain": [8.19, 40.1], "nice": false, "zero": false}}, "y": {"datum": 33.4, "type": "quantitative", "scale": {"domain": [-2.2, 126.6], "nice": false, "zero": false}}}},
{"data": {"values": [{}]}, "mark": {"type": "text", "align": "center", "baseline": "middle", "fontSize": 28, "fontWeight": "bold", "color": "#111", "text": "B"},
 "encoding": {"x": {"datum": 4.89, "type": "quantitative", "scale": {"domain": [8.19, 40.1], "nice": false, "zero": false}}, "y": {"datum": 122.8, "type": "quantitative", "scale": {"domain": [-2.2, 126.6], "nice": false, "zero": false}}}}
]
}
]
},
{
"bounds": "flush",
"spacing": 0,
"resolve": {"scale": {"color": "independent"}},
"vconcat": [
{"width": 374, "height": 76, "data": {"values": [{}]}, "mark": {"type": "point", "opacity": 0}, "encoding": {}},
{
"width": 374, "height": 431,
"view": {"stroke": "#888"},
"layer": [
{"data": {"name": "C"}, "mark": {"type": "line", "interpolate": "monotone", "strokeWidth": 1.6, "opacity": 0.9},
 "encoding": {
  "x": {"field": "t", "type": "quantitative", "scale": {"domain": [59.15, 93.3], "nice": false, "zero": false}, "axis": {"values": [60,61,62,63,64,65,66,67,68,69,70,71,72,73,74,75,76,77,78,79,80,81,82,83,84,85,86,87,88,89,90,91,92,93], "tickCount": 100, "format": "d", "labelExpr": "datum.value % 5 == 0 && datum.value >= 65 && datum.value <= 90 ? datum.label : ''", "labelFontSize": 20, "labelPadding": 6, "ticks": false, "title": "Temperature (ºC)", "titleFontSize": 20, "titlePadding": 11, "grid": true, "gridColor": "#c6c8d6", "gridWidth": 1, "domainColor": "#888"}},
  "y": {"field": "v", "type": "quantitative", "scale": {"domain": [-1.8, 54.5], "nice": false, "zero": false}, "axis": {"values": [0,2,4,6,8,10,12,14,16,18,20,22,24,26,28,30,32,34,36,38,40,42,44,46,48,50,52,54], "tickCount": 100, "format": "d", "labelExpr": "datum.value % 10 == 8 ? datum.label : ''", "labelFontSize": 20, "labelPadding": 5, "ticks": false, "title": "Derivative reporter (-R; x1000)", "titleFontSize": 20, "titlePadding": 8, "grid": true, "gridColor": "#c6c8d6", "gridWidth": 1, "domainColor": "#888"}},
  "color": {"field": "s", "type": "nominal", "legend": null, "scale": {"domain": ["c1","c2","c3","c4","c5","c6","c7","c8","c9"], "range": ["#1a6db5","#2c8bd1","#49b1d6","#5b5ea8","#3a9ad2","#5fbdd7","#77c8de","#2474bb","#4da3d8"]}}
 }},
{"data": {"values": [{}]}, "mark": {"type": "rect", "color": "white", "opacity": 1},
 "encoding": {"x": {"datum": 59.15, "type": "quantitative", "scale": {"domain": [59.15, 93.3], "nice": false, "zero": false}}, "x2": {"datum": 72.85},
  "y": {"datum": 45.6, "type": "quantitative", "scale": {"domain": [-1.8, 54.5], "nice": false, "zero": false}}, "y2": {"datum": 54.5}}},
{"data": {"values": [{}]}, "mark": {"type": "rule", "color": "#8ea6d8", "strokeWidth": 1.2},
 "encoding": {"x": {"datum": 82.6, "type": "quantitative", "scale": {"domain": [59.15, 93.3], "nice": false, "zero": false}}, "y": {"datum": -1.8, "type": "quantitative", "scale": {"domain": [-1.8, 54.5], "nice": false, "zero": false}}, "y2": {"datum": 54.5}}},
{"data": {"values": [{}]}, "mark": {"type": "text", "align": "left", "baseline": "middle", "fontSize": 20, "color": "#333", "text": "Melting Curve"},
 "encoding": {"x": {"datum": 60.52, "type": "quantitative", "scale": {"domain": [59.15, 93.3], "nice": false, "zero": false}}, "y": {"datum": 51.76, "type": "quantitative", "scale": {"domain": [-1.8, 54.5], "nice": false, "zero": false}}}},
{"data": {"values": [{}]}, "mark": {"type": "text", "align": "left", "baseline": "middle", "fontSize": 20, "color": "#333", "text": "OPN1LW/MW"},
 "encoding": {"x": {"datum": 60.52, "type": "quantitative", "scale": {"domain": [59.15, 93.3], "nice": false, "zero": false}}, "y": {"datum": 48.03, "type": "quantitative", "scale": {"domain": [-1.8, 54.5], "nice": false, "zero": false}}}},
{"data": {"values": [{}]}, "mark": {"type": "text", "align": "center", "baseline": "middle", "fontSize": 28, "fontWeight": "bold", "color": "#111", "text": "C"},
 "encoding": {"x": {"datum": 54.13, "type": "quantitative", "scale": {"domain": [59.15, 93.3], "nice": false, "zero": false}}, "y": {"datum": 53.45, "type": "quantitative", "scale": {"domain": [-1.8, 54.5], "nice": false, "zero": false}}}}
]
}
]
}
]
}
